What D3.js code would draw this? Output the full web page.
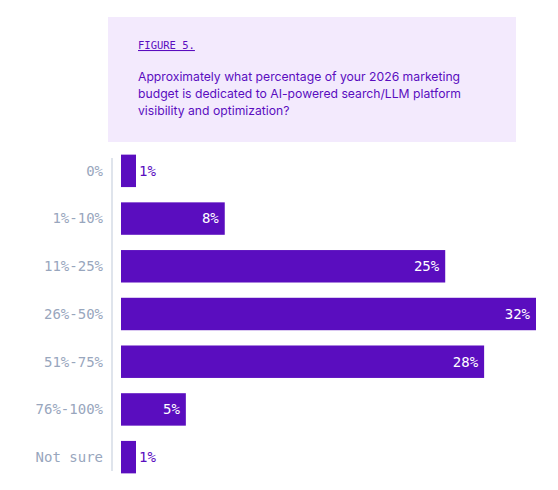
<!DOCTYPE html><html><head><meta charset="utf-8"><script src="https://cdn.jsdelivr.net/npm/d3@7"></script>
<style>body{margin:0;background:#fff}</style></head><body><svg id="c" width="558" height="490"></svg><script>
const categories=["0%","1%-10%","11%-25%","26%-50%","51%-75%","76%-100%","Not sure"];
const values=[1,8,25,32,28,5,1];
const figLabel="FIGURE 5.";
const question=["Approximately what percentage of your 2026 marketing","budget is dedicated to AI-powered search/LLM platform","visibility and optimization?"];
const svg=d3.select("#c");
const purple="#5a0dbf", mono="'DejaVu Sans Mono', monospace";
svg.append("rect").attr("x",108).attr("y",17).attr("width",408).attr("height",125).attr("fill","#f3eafd");
svg.append("text").attr("x",138).attr("y",49).text(figLabel).attr("font-family",mono).attr("font-size",10.5).attr("fill",purple).attr("text-decoration","underline");
svg.append("g").selectAll("text").data(question).join("text").attr("x",138).attr("y",(d,i)=>81+i*17).text(d=>d)
 .attr("font-family","Inter, sans-serif").attr("font-size",12.2).attr("fill",purple);
const x=d3.scaleLinear().domain([0,32]).range([121,536]);
const y=d3.scaleBand().domain(categories).range([147,481]).paddingInner(0.32).paddingOuter(0.16);
svg.append("line").attr("x1",112).attr("x2",112).attr("y1",158).attr("y2",471).attr("stroke","#d5dbe6").attr("stroke-width",1.5);
svg.append("g").selectAll("text").data(categories).join("text").attr("x",103).attr("y",d=>y(d)+y.bandwidth()/2).attr("dy","0.35em")
 .attr("text-anchor","end").text(d=>d).attr("font-family",mono).attr("font-size",14).attr("fill","#98a6bd");
const g=svg.append("g").selectAll("g").data(values).join("g");
const w=v=>Math.max(15,x(v)-x(0));
g.append("rect").attr("x",x(0)).attr("y",(d,i)=>y(categories[i])).attr("height",y.bandwidth()).attr("width",d=>w(d)).attr("fill",purple);
g.append("text").attr("x",d=>d>=3?x(0)+w(d)-6:x(0)+w(d)+3).attr("y",(d,i)=>y(categories[i])+y.bandwidth()/2).attr("dy","0.35em")
 .attr("text-anchor",d=>d>=3?"end":"start").text(d=>d+"%").attr("font-family",mono).attr("font-size",14)
 .attr("fill",d=>d>=3?"#fff":purple);
</script></body></html>
